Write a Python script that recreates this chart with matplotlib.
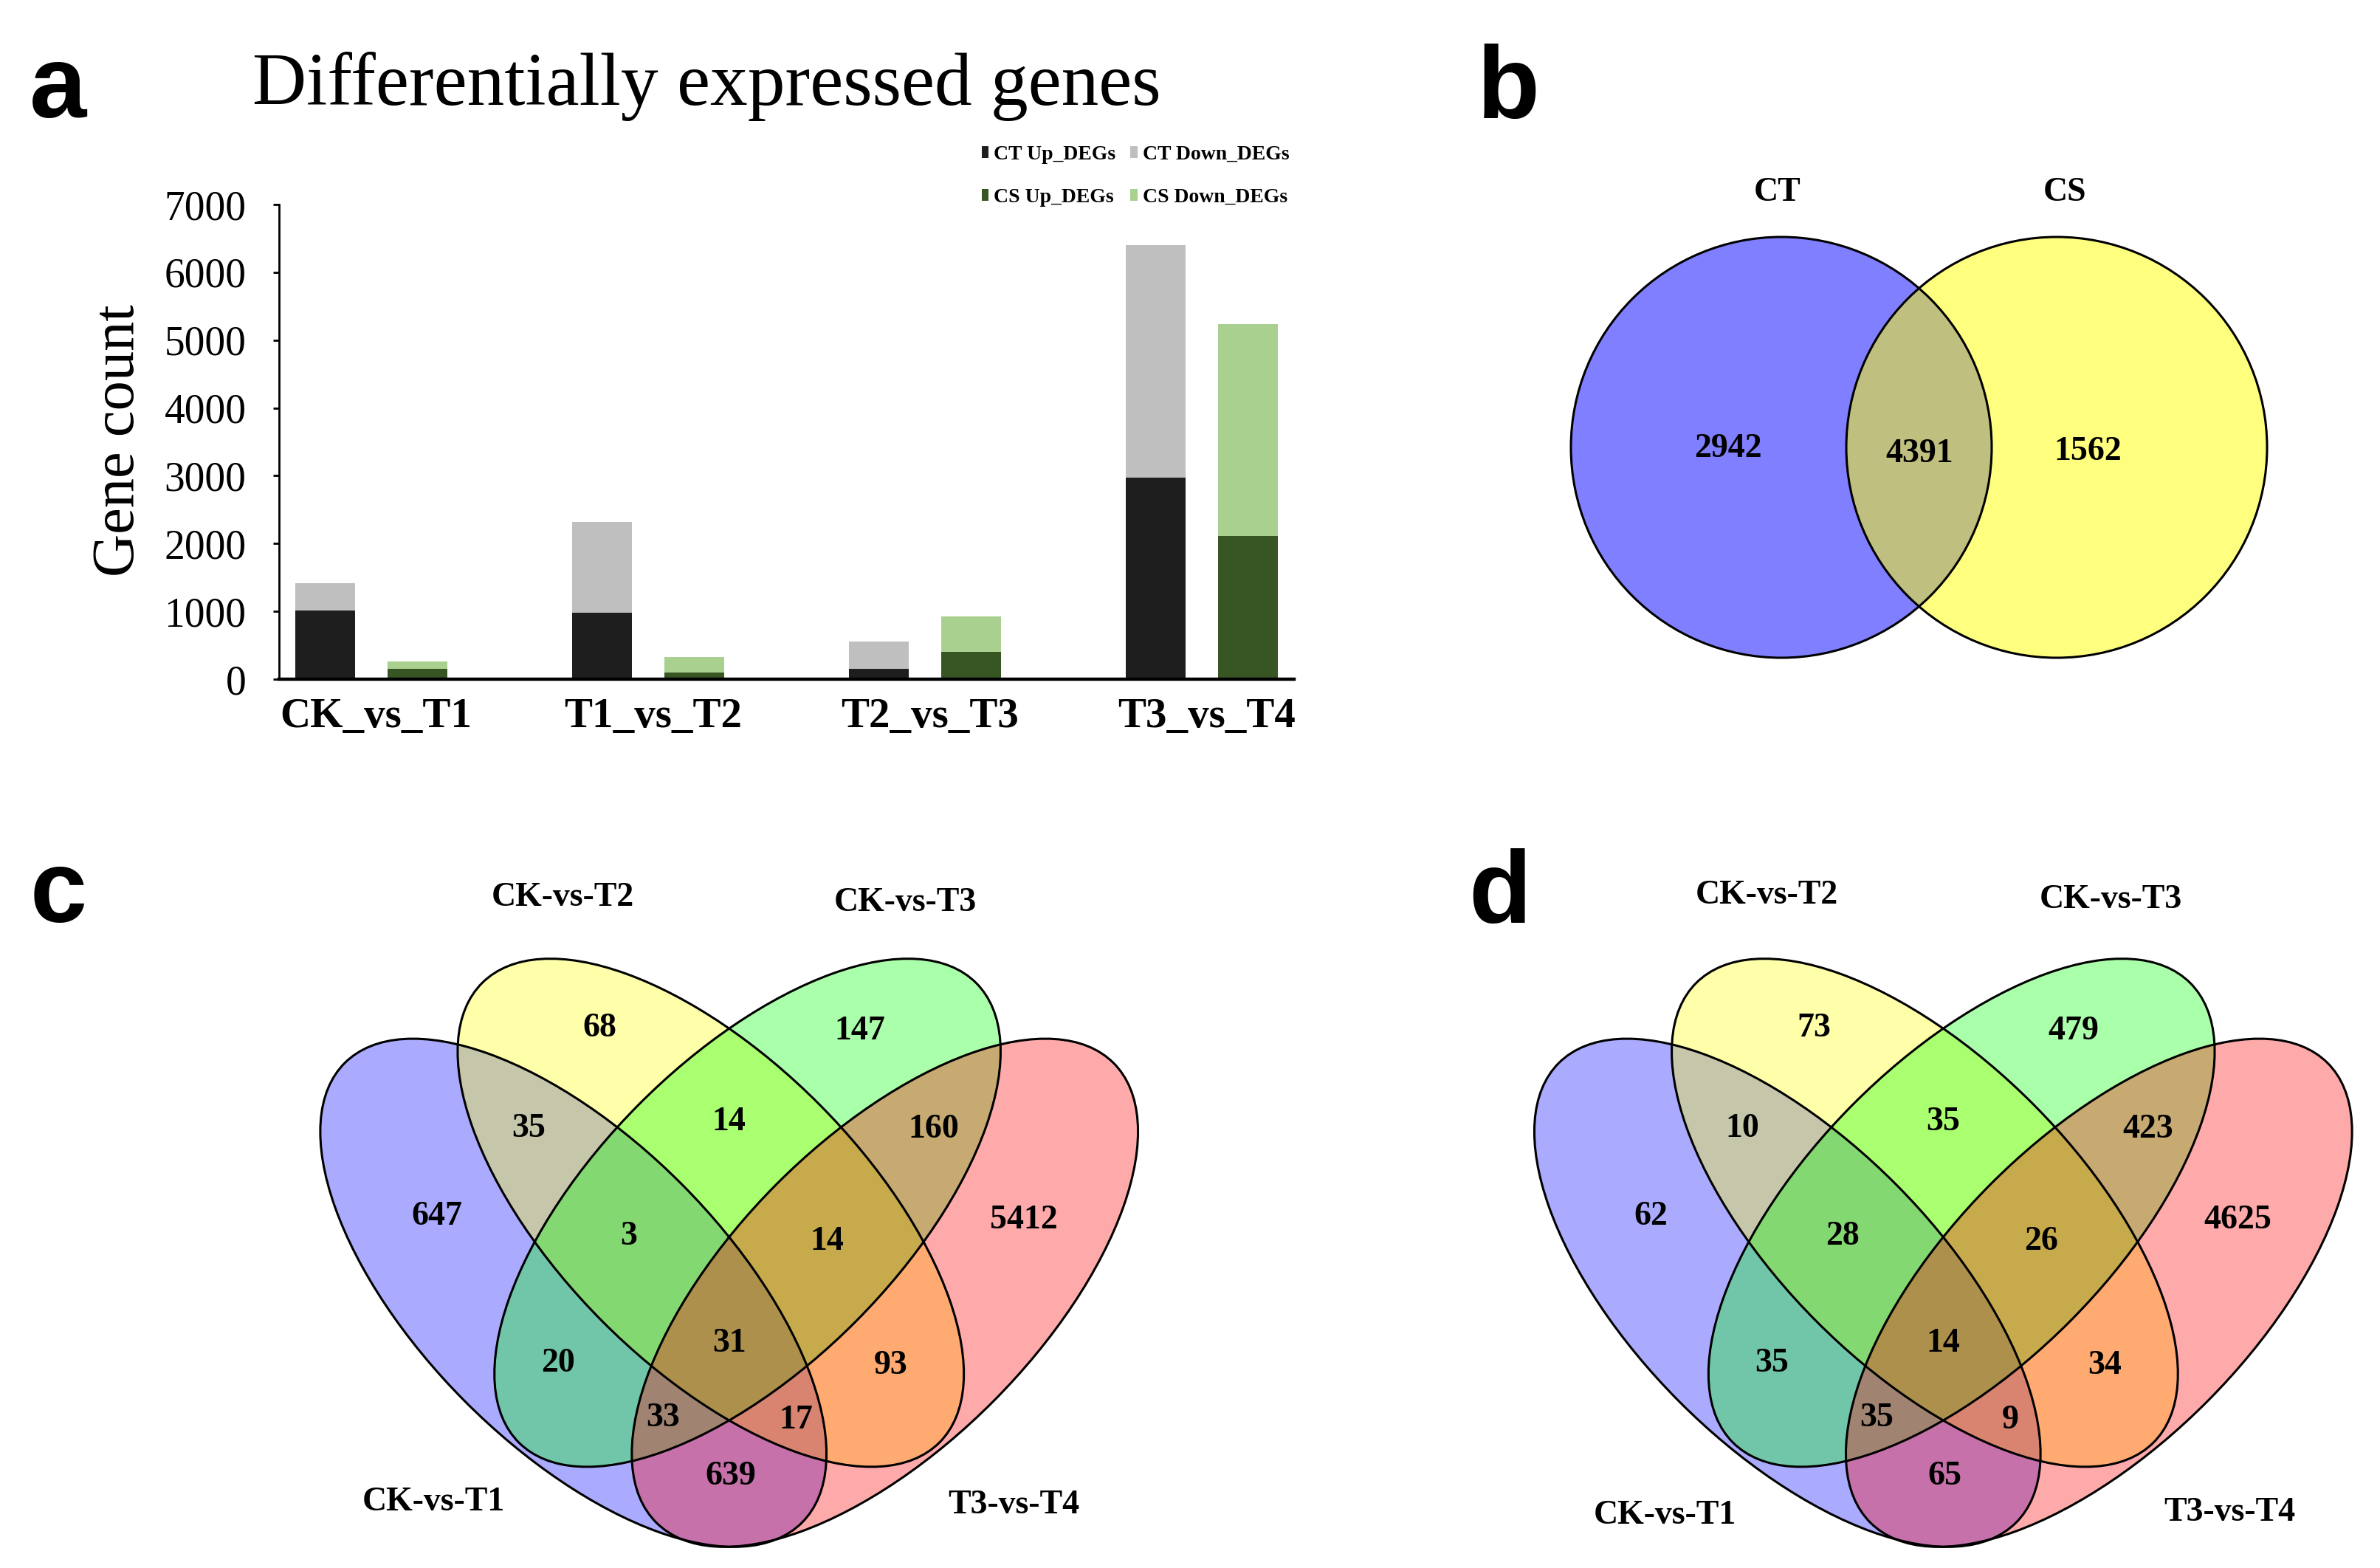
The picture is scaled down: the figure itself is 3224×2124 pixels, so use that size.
import numpy as np
import matplotlib
matplotlib.use("Agg")
from matplotlib import pyplot as plt
from matplotlib.patches import Ellipse, Circle, Patch

W, H = 3224, 2124
DPI = 200
SERIF = "Liberation Serif"
SANS = "Liberation Sans"

plt.rcParams.update({"font.family": SERIF})

# ---- panel a: stacked DEG counts ----
comparisons = ["CK_vs_T1", "T1_vs_T2", "T2_vs_T3", "T3_vs_T4"]
ct_up = [1010, 985, 150, 2970]
ct_down = [410, 1335, 400, 3435]
cs_up = [150, 100, 400, 2115]
cs_down = [110, 230, 520, 3125]
series_names = ["CT Up_DEGs", "CT Down_DEGs", "CS Up_DEGs", "CS Down_DEGs"]
series_colors = ["#1e1e1e", "#bfbfbf", "#375623", "#a9d08e"]

# ---- panel b: two-set venn ----
sets_b = ["CT", "CS"]
counts_b = [2942, 4391, 1562]          # CT only, shared, CS only

# ---- panels c/d: four-set venn ----
sets_4 = ["CK-vs-T1", "CK-vs-T2", "CK-vs-T3", "T3-vs-T4"]
regions = ["2", "3", "12", "23", "34", "1", "4", "123", "234",
           "13", "1234", "24", "134", "124", "14"]
counts_c = [68, 147, 35, 14, 160, 647, 5412, 3, 14, 20, 31, 93, 33, 17, 639]
counts_d = [73, 479, 10, 35, 423, 62, 4625, 28, 26, 35, 14, 34, 35, 9, 65]


def fx(x):
    return x / W


def fy(y):
    return 1 - y / H


fig = plt.figure(figsize=(W / DPI, H / DPI), dpi=DPI)

# overlay in figure pixels (y up) for the venn panels
ov = fig.add_axes([0, 0, 1, 1])
ov.set_xlim(0, W)
ov.set_ylim(0, H)
ov.axis("off")

# ---------------- panel a ----------------
ax = fig.add_axes([fx(378), fy(920), (1753 - 378) / W, (920 - 277) / H])
slots = np.arange(len(comparisons)) * 3
bw = 0.65
h0 = ax.bar(slots, ct_up, width=bw, color=series_colors[0], label=series_names[0])
h1 = ax.bar(slots, ct_down, bottom=ct_up, width=bw, color=series_colors[1], label=series_names[1])
h2 = ax.bar(slots + 1, cs_up, width=bw, color=series_colors[2], label=series_names[2])
h3 = ax.bar(slots + 1, cs_down, bottom=cs_up, width=bw, color=series_colors[3], label=series_names[3])

ax.set_xlim(-0.5, 10.5)
ax.set_ylim(0, 7000)
ax.set_yticks(range(0, 7001, 1000))
ax.set_xticks(slots + 0.55)
ax.set_xticklabels(comparisons, fontweight="bold", fontsize=20.5)
ax.tick_params(axis="y", direction="out", length=3, width=1, labelsize=20, pad=13)
ax.tick_params(axis="x", length=0, pad=9)
for s in ["top", "right"]:
    ax.spines[s].set_visible(False)
ax.spines["left"].set_linewidth(1.0)
ax.spines["bottom"].set_linewidth(1.6)

ax.legend(handles=[h0, h2, h1, h3], ncol=2, loc="upper right",
          bbox_to_anchor=(0.995, 1.125), frameon=False,
          prop={"family": SERIF, "weight": "bold", "size": 10},
          handlelength=0.35, handleheight=0.5, handletextpad=0.25,
          columnspacing=0.7, labelspacing=1.2, borderpad=0, borderaxespad=0)

fig.text(fx(161), fy(597), "Gene count", rotation=90, ha="center", va="center", fontsize=29)
fig.text(fx(957), fy(142), "Differentially expressed genes", ha="center", va="baseline", fontsize=36.5)

# ---------------- panel b ----------------
ob = (2599.5, H - 606)
b_centers = [(-186.5, 0), (186.5, 0)]
b_colors = [(0, 0, 1, 0.5), (1, 1, 0, 0.5)]
b_radius = 285
for (cx, cy), col in zip(b_centers, b_colors):
    ov.add_patch(Circle((ob[0] + cx, ob[1] + cy), b_radius, facecolor=col, edgecolor="none"))
for cx, cy in b_centers:
    ov.add_patch(Circle((ob[0] + cx, ob[1] + cy), b_radius, facecolor="none",
                        edgecolor="black", linewidth=1.1))
b_name_pos = [(-191.5, 344.5), (197.5, 344.5)]
b_count_pos = [(-258.5, -2), (0.5, -9), (228.5, -6)]
for name, (tx, ty) in zip(sets_b, b_name_pos):
    ov.text(ob[0] + tx, ob[1] + ty, name, ha="center", va="center", fontsize=16.5, fontweight="bold")
for n, (tx, ty) in zip(counts_b, b_count_pos):
    ov.text(ob[0] + tx, ob[1] + ty, str(n), ha="center", va="center", fontsize=16.5, fontweight="bold")

# ---------------- panels c and d ----------------
ell_centers = [(-211.0, 345.9), (-24.9, 454.3), (24.9, 454.3), (211.0, 345.9)]
ell_angles = [-45.17, -45.17, 45.17, 45.17]
ell_w, ell_h = 878.2, 415.6
ell_colors = [(0, 0, 1, 1 / 3), (1, 1, 0, 1 / 3), (0, 1, 0, 1 / 3), (1, 0, 0, 1 / 3)]
region_pos = {
    "2": (-175, 704), "3": (177, 700),
    "12": (-272, 568), "23": (0, 577), "34": (277, 567),
    "1": (-396, 449), "4": (399, 444),
    "123": (-136, 422), "234": (133, 415),
    "13": (-232, 250), "1234": (0, 277), "24": (219, 247),
    "134": (-90, 176), "124": (91, 173),
    "14": (2, 97),
}


def venn4(origin, counts, name_pos):
    x0, y0 = origin
    for (cx, cy), ang, col in zip(ell_centers, ell_angles, ell_colors):
        ov.add_patch(Ellipse((x0 + cx, y0 + cy), ell_w, ell_h, angle=ang,
                             facecolor=col, edgecolor="none"))
    for (cx, cy), ang in zip(ell_centers, ell_angles):
        ov.add_patch(Ellipse((x0 + cx, y0 + cy), ell_w, ell_h, angle=ang,
                             facecolor="none", edgecolor="black", linewidth=1.1))
    for key, n in zip(regions, counts):
        tx, ty = region_pos[key]
        ov.text(x0 + tx, y0 + ty, str(n), ha="center", va="center",
                fontsize=16.5, fontweight="bold")
    for name, (tx, ty) in zip(sets_4, name_pos):
        ov.text(x0 + tx, y0 + ty, name, ha="center", va="center",
                fontsize=16.5, fontweight="bold")


c_name_pos = [(-400, 61.6), (-225.4, 880.8), (238.5, 874.6), (386.1, 57.7)]
d_name_pos = [(-376.9, 43.9), (-238.5, 884.6), (226.9, 878.5), (388.5, 48.5)]
venn4((987.7, H - 2097.1), counts_c, c_name_pos)
venn4((2632.3, H - 2097.1), counts_d, d_name_pos)

# panel letters
for letter, (lx, ly) in zip("abcd", [(40, 159), (2001, 160), (41, 1249), (1989, 1250)]):
    fig.text(fx(lx), fy(ly), letter, ha="left", va="baseline", fontsize=50,
             fontweight="bold", fontfamily=SANS)

fig.savefig("out.png", dpi=DPI)
